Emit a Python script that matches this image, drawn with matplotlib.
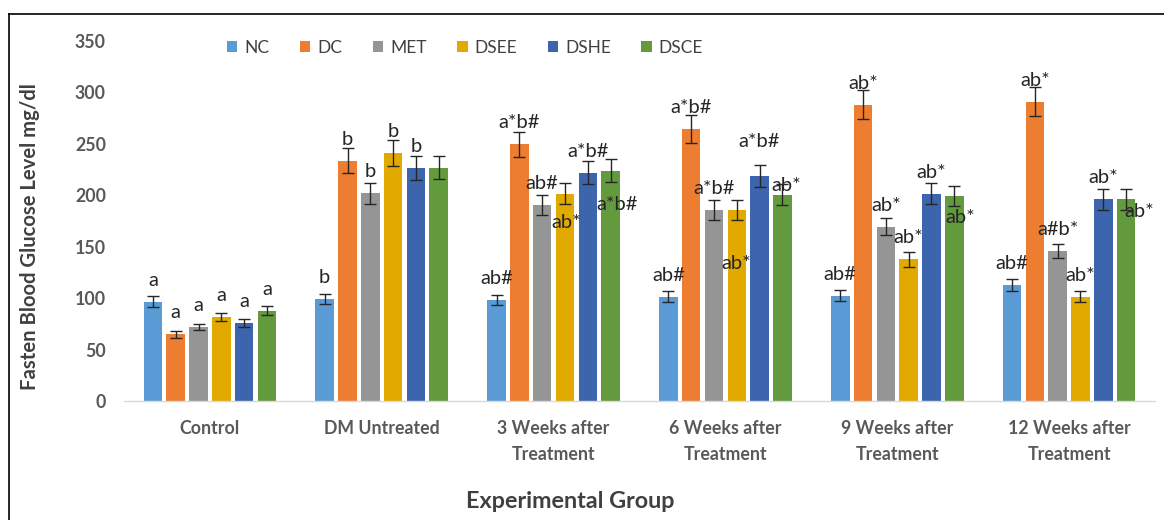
import matplotlib
matplotlib.use("Agg")
import matplotlib.pyplot as plt
import numpy as np
from matplotlib.patches import Patch
from matplotlib.lines import Line2D

plt.rcParams['font.family'] = ['Lato', 'DejaVu Sans']

# ---- data -------------------------------------------------------------
groups = ["Control", "DM Untreated", "3 Weeks after\nTreatment",
          "6 Weeks after\nTreatment", "9 Weeks after\nTreatment",
          "12 Weeks after\nTreatment"]
series = ["NC", "DC", "MET", "DSEE", "DSHE", "DSCE"]

nc   = [96.5, 99.5, 98.0, 101.4, 102.4, 113.0]
dc   = [64.8, 233.6, 249.5, 264.4, 287.8, 291.0]
met  = [72.0, 202.0, 191.0, 185.7, 169.5, 145.5]
dsee = [81.7, 241.0, 201.5, 185.7, 137.7, 101.4]
dshe = [76.0, 226.5, 222.0, 218.7, 201.6, 196.0]
dsce = [87.8, 227.0, 224.0, 200.6, 199.3, 196.0]

nc_err   = [5.2, 5.0, 4.9, 5.2, 5.5, 5.8]
dc_err   = [3.2, 12.0, 12.2, 13.3, 14.1, 14.3]
met_err  = [3.2, 10.2, 9.7, 9.5, 8.4, 6.8]
dsee_err = [3.9, 12.5, 10.0, 9.5, 7.0, 5.2]
dshe_err = [4.0, 11.3, 11.2, 11.0, 10.0, 10.2]
dsce_err = [4.5, 11.3, 11.5, 10.5, 10.2, 10.2]

nc_sig   = ["a", "b", "ab#", "ab#", "ab#", "ab#"]
dc_sig   = ["a", "b", "a*b#", "a*b#", "ab*", "ab*"]
met_sig  = ["a", "b", "ab#", "a*b#", "ab*", "a#b*"]
dsee_sig = ["a", "b", "ab*", "ab*", "ab*", "ab*"]
dshe_sig = ["a", "b", "a*b#", "a*b#", "ab*", "ab*"]
dsce_sig = ["a", "", "a*b#", "ab*", "ab*", "ab*"]

values = [nc, dc, met, dsee, dshe, dsce]
errors = [nc_err, dc_err, met_err, dsee_err, dshe_err, dsce_err]
sigs = [nc_sig, dc_sig, met_sig, dsee_sig, dshe_sig, dsce_sig]

colors = ["#5B9BD5", "#ED7D31", "#959595", "#E2A900", "#3D65AE", "#639A3E"]

# label placement (pixel offsets from bar top; default is just above)
default_off = (0, 16)
label_offsets = {
    (3, 2): (1, -34),    # DSEE, 3 weeks
    (5, 2): (6, -39),    # DSCE, 3 weeks
    (3, 3): (-1, -59),   # DSEE, 6 weeks
    (4, 3): (-1, 29),    # DSHE, 6 weeks
    (5, 3): (4, 4),      # DSCE, 6 weeks
    (5, 4): (6, -27),    # DSCE, 9 weeks
    (5, 5): (13, -18),   # DSCE, 12 weeks
}

# ---- figure -----------------------------------------------------------
W, H = 1164, 520
fig = plt.figure(figsize=(W / 100, H / 100), dpi=100)
ax = fig.add_axes([124 / W, 1 - 401 / H, (1155 - 124) / W, 360 / H])

x = np.arange(len(groups))
step = 0.1327
width = 0.108
for j, (vals, errs, col) in enumerate(zip(values, errors, colors)):
    pos = x + (j - 2.5) * step
    ax.bar(pos, vals, width=width, color=col, edgecolor="none", zorder=2)
    ax.errorbar(pos, vals, yerr=errs, fmt="none", ecolor="#262626",
                elinewidth=1.0, capsize=4.3, capthick=1.0, zorder=3)
    for i, (p, v, s) in enumerate(zip(pos, vals, sigs[j])):
        if not s:
            continue
        off = label_offsets.get((j, i), default_off)
        ax.annotate(s, (p, v), xytext=off, textcoords="offset pixels",
                    ha="center", va="baseline", fontsize=14.5,
                    color="#262626", zorder=4)

ax.set_xlim(-0.5, len(groups) - 0.5)
ax.set_ylim(0, 350)
ax.set_yticks(np.arange(0, 351, 50))
ax.set_xticks(x)
ax.set_xticklabels(groups, linespacing=1.6)

for side in ["top", "right", "left"]:
    ax.spines[side].set_visible(False)
ax.spines["bottom"].set_color("#D9D9D9")
ax.spines["bottom"].set_linewidth(1.0)
ax.tick_params(axis="both", length=0, labelsize=12.8, labelcolor="#595959")
ax.tick_params(axis="y", pad=13)
ax.tick_params(axis="x", pad=14)
for lab in ax.get_xticklabels() + ax.get_yticklabels():
    lab.set_fontweight("bold")

fig.text(30 / W, 1 - 237 / H, "Fasten Blood Glucose Level mg/dl",
         rotation=90, ha="center", va="center", fontsize=14.6,
         fontweight="bold", color="#404040")
fig.text(570 / W, 1 - 502 / H, "Experimental Group", ha="center",
         va="center", fontsize=16.8, fontweight="bold", color="#404040")

handles = [Patch(facecolor=c, edgecolor="none") for c in colors]
fig.legend(handles, series, loc="center", bbox_to_anchor=(465 / W, 1 - 48 / H),
           ncol=6, frameon=False, fontsize=12.5, handlelength=0.6,
           handleheight=0.6, handletextpad=0.4, columnspacing=1.76,
           labelcolor="#404040")

# outer frame lines (top and left)
fig.add_artist(Line2D([9 / W, 1], [1 - 14 / H, 1 - 14 / H],
                      transform=fig.transFigure, color="black", lw=1.2))
fig.add_artist(Line2D([9 / W, 9 / W], [0, 1 - 14 / H],
                      transform=fig.transFigure, color="black", lw=1.2))

fig.savefig("out.png", dpi=100, facecolor="white")
